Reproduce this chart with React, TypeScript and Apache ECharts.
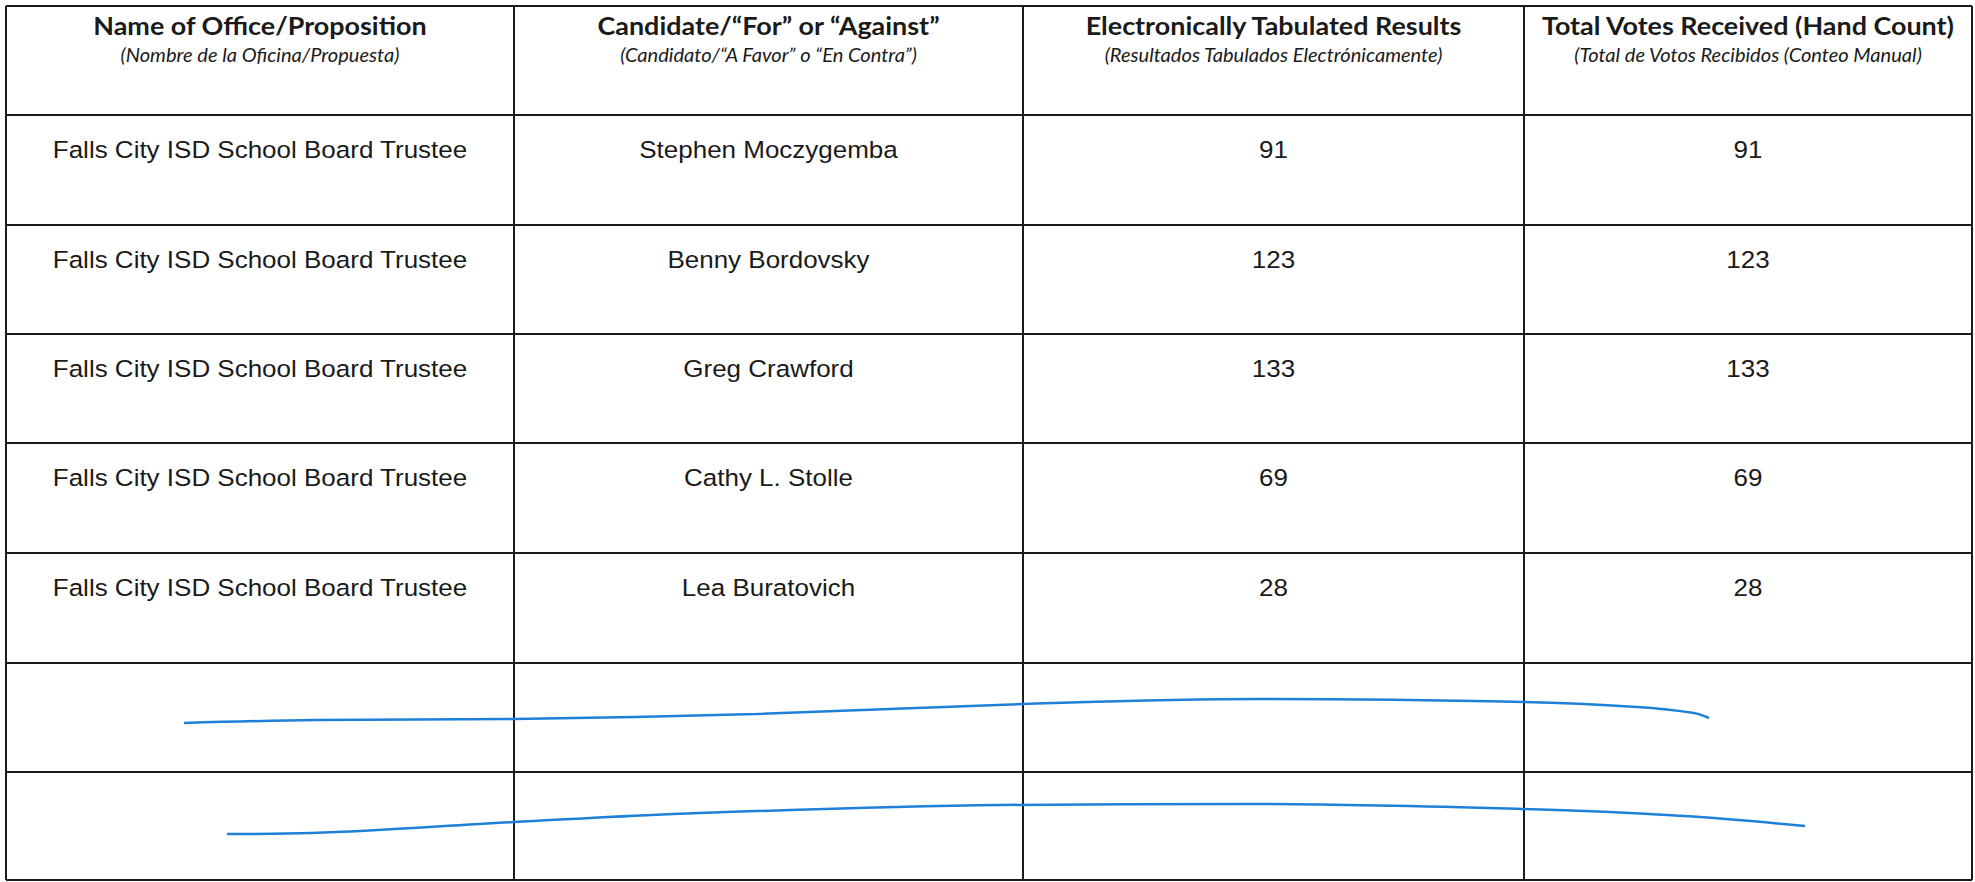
import React, { useEffect, useRef } from "react";
import * as echarts from "echarts";

// ---- Data ----
const headerTitles = [
  "Name of Office/Proposition",
  "Candidate/“For” or “Against”",
  "Electronically Tabulated Results",
  "Total Votes Received (Hand Count)",
];
const headerSubtitles = [
  "(Nombre de la Oficina/Propuesta)",
  "(Candidato/“A Favor” o “En Contra”)",
  "(Resultados Tabulados Electrónicamente)",
  "(Total de Votos Recibidos (Conteo Manual)",
];
const offices = [
  "Falls City ISD School Board Trustee",
  "Falls City ISD School Board Trustee",
  "Falls City ISD School Board Trustee",
  "Falls City ISD School Board Trustee",
  "Falls City ISD School Board Trustee",
];
const candidates = [
  "Stephen Moczygemba",
  "Benny Bordovsky",
  "Greg Crawford",
  "Cathy L. Stolle",
  "Lea Buratovich",
];
const electronicResults = [91, 123, 133, 69, 28];
const handCountResults = [91, 123, 133, 69, 28];
// hand-drawn pen strokes crossing out the two empty rows (page coordinates)
const strikeRow6 = [
  [184, 723], [315, 720], [514, 719], [756, 714], [1023, 704],
  [1260, 699], [1524, 702], [1637, 707], [1694, 713], [1709, 718],
];
const strikeRow7 = [
  [227, 834], [312, 833], [514, 822], [700, 813], [1000, 805],
  [1249, 804], [1524, 809], [1684, 816], [1805, 826],
];

// ---- Layout ----
const W = 1975;
const H = 882;
const colX = [6, 514, 1023, 1524, 1972];
const rowTops = [6, 115, 225, 334, 443, 553, 663, 772];
const bottomY = 880;

const measureCtx = (() => {
  if (typeof document === "undefined") return null;
  const c = document.createElement("canvas");
  return c.getContext("2d");
})();
function measure(text: string, font: string) {
  if (!measureCtx) return 1;
  measureCtx.font = font;
  return measureCtx.measureText(text).width || 1;
}

const titleFont = { family: "Lato", size: 25, weight: "bold", style: "normal" };
const subFont = { family: "Lato", size: 19, weight: "normal", style: "italic" };
const bodyFont = { family: "Liberation Sans", size: 23.5, weight: "normal", style: "normal" };
const fontStr = (f: any) => `${f.style} ${f.weight} ${f.size}px ${f.family}`;

export default function App() {
  const ref = useRef<HTMLDivElement>(null);
  useEffect(() => {
    if (!ref.current) return;
    const chart = echarts.init(ref.current, undefined, { renderer: "svg" });

    const titleScale = 334 / measure(headerTitles[0], fontStr(titleFont));
    const subScale = 279 / measure(headerSubtitles[0], fontStr(subFont));
    const bodyScale = 415 / measure(offices[0], fontStr(bodyFont));

    const ink = "#1b1b1b";
    const elements: any[] = [];
    const allRows = [...rowTops, bottomY];
    allRows.forEach((y) => {
      elements.push({
        type: "line",
        shape: { x1: colX[0], y1: y, x2: colX[colX.length - 1], y2: y },
        style: { stroke: ink, lineWidth: 2 },
      });
    });
    colX.forEach((x) => {
      elements.push({
        type: "line",
        shape: { x1: x, y1: rowTops[0], x2: x, y2: bottomY },
        style: { stroke: ink, lineWidth: 2 },
      });
    });

    const centers = colX.slice(0, 4).map((x, i) => (x + colX[i + 1]) / 2);
    const addText = (text: string, x: number, y: number, f: any, sx: number) => {
      elements.push({
        type: "text",
        x,
        y,
        scaleX: sx,
        style: {
          text,
          x: 0,
          y: 0,
          align: "center",
          verticalAlign: "middle",
          fontFamily: f.family,
          fontSize: f.size,
          fontWeight: f.weight,
          fontStyle: f.style,
          fill: "#1a1a1a",
        },
      });
    };

    headerTitles.forEach((t, i) => addText(t, centers[i], 25, titleFont, titleScale));
    headerSubtitles.forEach((t, i) => addText(t, centers[i], 55, subFont, subScale));

    offices.forEach((o, r) => {
      const y = rowTops[r + 1] + 35;
      addText(o, centers[0], y, bodyFont, bodyScale);
      addText(candidates[r], centers[1], y, bodyFont, bodyScale);
      addText(String(electronicResults[r]), centers[2], y, bodyFont, bodyScale);
      addText(String(handCountResults[r]), centers[3], y, bodyFont, bodyScale);
    });

    const pen = { color: "#1f80d8", width: 2.5 };
    chart.setOption({
      animation: false,
      backgroundColor: "#ffffff",
      grid: { left: 0, right: 0, top: 0, bottom: 0 },
      xAxis: { type: "value", min: 0, max: W, show: false },
      yAxis: { type: "value", min: 0, max: H, inverse: true, show: false },
      graphic: { elements },
      series: [
        { type: "line", data: strikeRow6, smooth: 0.35, symbol: "none", lineStyle: pen, z: 5 },
        { type: "line", data: strikeRow7, smooth: 0.35, symbol: "none", lineStyle: pen, z: 5 },
      ],
    });
    return () => chart.dispose();
  }, []);
  return (
    <div
      ref={ref}
      style={{ position: "absolute", left: 0, top: 0, width: W, height: H, background: "#fff" }}
    />
  );
}
